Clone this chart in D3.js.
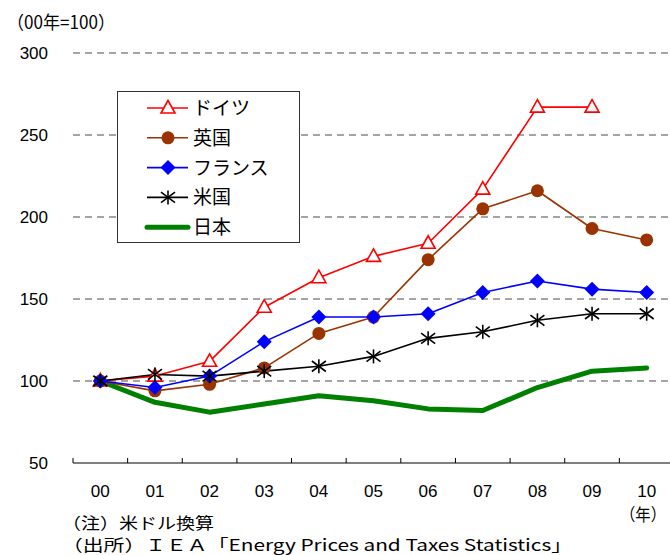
<!DOCTYPE html>
<html>
<head>
<meta charset="utf-8">
<script src="https://cdn.jsdelivr.net/npm/d3@7"></script>
<style>
  html, body { margin: 0; padding: 0; background: #fff; }
  svg { display: block; }
</style>
</head>
<body>
<svg id="chart" width="670" height="555"></svg>
<script>
// Years (2000–2010) shown as two-digit labels
const years = ["00", "01", "02", "03", "04", "05", "06", "07", "08", "09", "10"];

// Index values, 2000 = 100
const germany = [100, 103, 112, 145, 163, 176, 184, 217, 267, 267, null];
const uk      = [100, 94, 98, 108, 129, 139, 174, 205, 216, 193, 186];
const france  = [100, 96, 103, 124, 139, 139, 141, 154, 161, 156, 154];
const usa     = [100, 104, 103, 106, 109, 115, 126, 130, 137, 141, 141];
const japan   = [100, 87, 81, 86, 91, 88, 83, 82, 96, 106, 108];

const yTicks = [50, 100, 150, 200, 250, 300];
const gridTicks = [100, 150, 200, 250, 300];

const series = [
  { name: "日本",     values: japan,   color: "#008000", width: 5,   marker: "none" },
  { name: "ドイツ",   values: germany, color: "#ff0000", width: 1.6, marker: "triangle" },
  { name: "英国",     values: uk,      color: "#993300", width: 1.6, marker: "circle" },
  { name: "フランス", values: france,  color: "#0000ff", width: 1.6, marker: "diamond" },
  { name: "米国",     values: usa,     color: "#000000", width: 1.6, marker: "asterisk" }
];
const legendOrder = ["ドイツ", "英国", "フランス", "米国", "日本"];

const svg = d3.select("#chart");
const latin = "'Liberation Sans', Arial, sans-serif";
const jp = "'Noto Sans CJK JP', sans-serif";

const x = d3.scaleBand().domain(years).range([73, 674]).padding(0);
const y = d3.scaleLinear().domain([50, 300]).range([463, 53]);
const cx = d => x(d) + x.bandwidth() / 2;

// Dashed gridlines
svg.append("g").selectAll("line").data(gridTicks).join("line")
  .attr("x1", 73).attr("x2", 670)
  .attr("y1", d => y(d)).attr("y2", d => y(d))
  .attr("stroke", "#4a4a4a").attr("stroke-width", 1)
  .attr("stroke-dasharray", "7,5");

// X axis: baseline with ticks pointing upward at category boundaries
const xAxis = svg.append("g").attr("transform", `translate(0,${y(50)})`);
xAxis.append("line").attr("x1", 73).attr("x2", 670)
  .attr("stroke", "#000").attr("stroke-width", 1);
xAxis.selectAll("line.tick").data(years).join("line")
  .attr("class", "tick")
  .attr("x1", d => x(d)).attr("x2", d => x(d))
  .attr("y1", 0).attr("y2", -5)
  .attr("stroke", "#000").attr("stroke-width", 1);
svg.append("g").selectAll("text").data(years).join("text")
  .attr("x", d => cx(d)).attr("y", 497)
  .attr("text-anchor", "middle")
  .attr("font-family", latin).attr("font-size", 17)
  .attr("textLength", 19).attr("lengthAdjust", "spacingAndGlyphs")
  .text(d => d);

// Y tick labels
svg.append("g").selectAll("text").data(yTicks).join("text")
  .attr("x", 48).attr("y", d => y(d) + 6)
  .attr("text-anchor", "end")
  .attr("font-family", latin).attr("font-size", 17)
  .text(d => d);

// Unit labels
svg.append("text").attr("x", 7).attr("y", 29)
  .attr("font-family", jp).attr("font-size", 18)
  .attr("textLength", 108).attr("lengthAdjust", "spacingAndGlyphs")
  .text("（00年=100）");
svg.append("text").attr("x", 620).attr("y", 521)
  .attr("font-family", jp).attr("font-size", 17)
  .attr("textLength", 46).attr("lengthAdjust", "spacingAndGlyphs")
  .text("（年）");

// Lines
const line = d3.line()
  .defined(d => d.v != null)
  .x(d => cx(d.year))
  .y(d => y(d.v));

function drawMarker(g, type, color) {
  if (type === "triangle") {
    g.append("path").attr("d", "M0,-7.5L7,5L-7,5Z")
      .attr("fill", "#fff").attr("stroke", color).attr("stroke-width", 1.6);
  } else if (type === "circle") {
    g.append("circle").attr("r", 6.5).attr("fill", color);
  } else if (type === "diamond") {
    g.append("path").attr("d", "M0,-7.5L7.5,0L0,7.5L-7.5,0Z").attr("fill", color);
  } else if (type === "asterisk") {
    const r = 7;
    const p = [[0, -r, 0, r], [-r, -r * 0.75, r, r * 0.75], [-r, r * 0.75, r, -r * 0.75]];
    g.selectAll("line").data(p).join("line")
      .attr("x1", d => d[0]).attr("y1", d => d[1])
      .attr("x2", d => d[2]).attr("y2", d => d[3])
      .attr("stroke", color).attr("stroke-width", 1.6);
  }
}

series.forEach(s => {
  const pts = years.map((yr, i) => ({ year: yr, v: s.values[i] }));
  svg.append("path").datum(pts)
    .attr("d", line)
    .attr("fill", "none")
    .attr("stroke", s.color)
    .attr("stroke-width", s.width)
    .attr("stroke-linejoin", "round")
    .attr("stroke-linecap", s.marker === "none" ? "round" : "butt");
});
series.forEach(s => {
  if (s.marker === "none") return;
  years.forEach((yr, i) => {
    const v = s.values[i];
    if (v == null) return;
    const g = svg.append("g").attr("transform", `translate(${cx(yr)},${y(v)})`);
    drawMarker(g, s.marker, s.color);
  });
});

// Legend
const lg = svg.append("g");
lg.append("rect").attr("x", 117.5).attr("y", 91.5).attr("width", 182).attr("height", 151)
  .attr("fill", "#fff").attr("stroke", "#333").attr("stroke-width", 1);
legendOrder.forEach((name, i) => {
  const s = series.find(d => d.name === name);
  const ly = 108 + i * 29.8;
  lg.append("line").attr("x1", 147).attr("x2", 188).attr("y1", ly).attr("y2", ly)
    .attr("stroke", s.color).attr("stroke-width", s.width)
    .attr("stroke-linecap", s.marker === "none" ? "round" : "butt");
  if (s.marker !== "none") {
    drawMarker(lg.append("g").attr("transform", `translate(168,${ly})`), s.marker, s.color);
  }
  lg.append("text").attr("x", 193).attr("y", ly + 7)
    .attr("font-family", jp).attr("font-size", 19)
    .text(name);
});

// Notes
svg.append("text").attr("x", 62).attr("y", 529)
  .attr("font-family", jp).attr("font-size", 16)
  .attr("textLength", 152).attr("lengthAdjust", "spacingAndGlyphs")
  .text("（注）米ドル換算");
svg.append("text").attr("x", 62).attr("y", 551)
  .attr("font-family", jp).attr("font-size", 16)
  .attr("textLength", 510).attr("lengthAdjust", "spacingAndGlyphs")
  .text("（出所）ＩＥＡ「Energy Prices and Taxes Statistics」");
</script>
</body>
</html>
